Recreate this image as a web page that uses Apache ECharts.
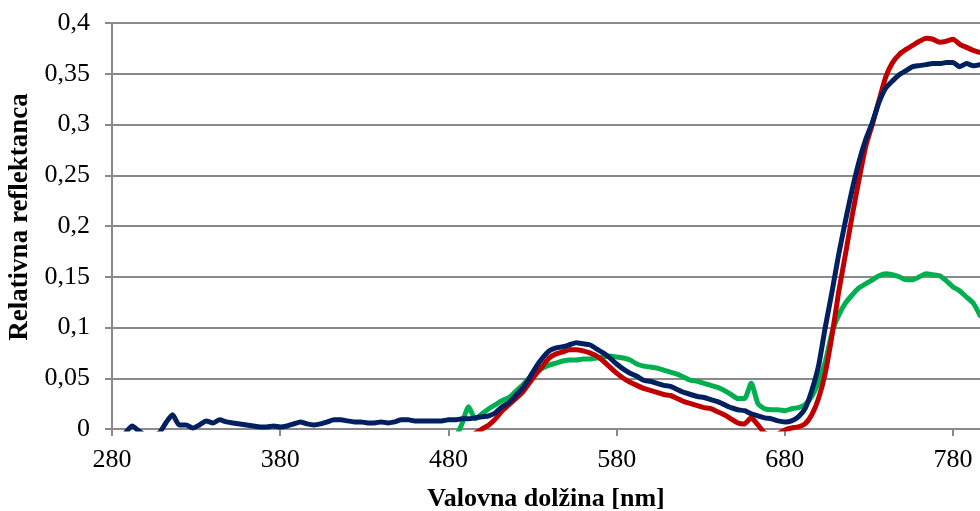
<!DOCTYPE html>
<html>
<head>
<meta charset="utf-8">
<script src="https://cdn.jsdelivr.net/npm/echarts@6/dist/echarts.min.js"></script>
<style>
  html, body { margin: 0; padding: 0; background: #ffffff; }
  #chart { width: 980px; height: 511px; }
</style>
</head>
<body>
<div id="chart"></div>
<script>
// Wavelength grid (nm), 4 nm step
const wavelengths = [];
for (let w = 288; w <= 796; w += 4) wavelengths.push(w);

// Navy spectrum, 288–796 nm
const navyValues = [
  -0.004, 0.003, -0.002, -0.006, -0.006, -0.004, 0.006, 0.014, 0.004, 0.004,
  0.001, 0.004, 0.008, 0.006, 0.009, 0.007, 0.006, 0.005, 0.004, 0.003,
  0.002, 0.002, 0.003, 0.002, 0.003, 0.005, 0.007, 0.005, 0.004, 0.005,
  0.007, 0.009, 0.009, 0.008, 0.007, 0.007, 0.006, 0.006, 0.007, 0.006,
  0.007, 0.009, 0.009, 0.008, 0.008, 0.008, 0.008, 0.008, 0.009, 0.009,
  0.010, 0.010, 0.011, 0.012, 0.013, 0.016, 0.022, 0.026, 0.033, 0.040,
  0.050, 0.061, 0.070, 0.077, 0.080, 0.081, 0.083, 0.085, 0.084, 0.083,
  0.079, 0.075, 0.070, 0.064, 0.059, 0.055, 0.052, 0.048, 0.047, 0.045,
  0.043, 0.042, 0.039, 0.036, 0.034, 0.032, 0.031, 0.029, 0.027, 0.024,
  0.021, 0.019, 0.018, 0.015, 0.013, 0.011, 0.010, 0.008, 0.007, 0.008,
  0.012, 0.020, 0.038, 0.062, 0.100, 0.135, 0.172, 0.205, 0.236, 0.263,
  0.285, 0.302, 0.322, 0.336, 0.343, 0.349, 0.353, 0.357, 0.358, 0.359,
  0.360, 0.360, 0.361, 0.361, 0.357, 0.360, 0.358, 0.359
];

// Red spectrum, from 488 nm
const redStart = 488;
const redValues = [
  -0.010, -0.008, -0.004, 0.000, 0.004, 0.010, 0.018, 0.024, 0.030, 0.036,
  0.045, 0.054, 0.062, 0.070, 0.074, 0.076, 0.078, 0.078, 0.077, 0.075,
  0.072, 0.067, 0.061, 0.055, 0.050, 0.046, 0.043, 0.040, 0.038, 0.036,
  0.034, 0.033, 0.030, 0.027, 0.025, 0.023, 0.021, 0.020, 0.017, 0.014,
  0.010, 0.006, 0.005, 0.011, 0.004, -0.004, -0.006, -0.005, -0.001, 0.001,
  0.002, 0.005, 0.014, 0.030, 0.055, 0.092, 0.135, 0.172, 0.210, 0.245,
  0.278, 0.300, 0.324, 0.347, 0.361, 0.369, 0.374, 0.378, 0.382, 0.385,
  0.384, 0.381, 0.382, 0.384, 0.379, 0.376, 0.373, 0.371
];

// Green spectrum, from 484 nm
const greenStart = 484;
const greenValues = [
  -0.010, 0.005, 0.022, 0.010, 0.015, 0.020, 0.024, 0.028, 0.031, 0.037,
  0.043, 0.050, 0.056, 0.060, 0.063, 0.065, 0.067, 0.068, 0.068, 0.069,
  0.069, 0.070, 0.071, 0.072, 0.071, 0.070, 0.068, 0.064, 0.062, 0.061,
  0.060, 0.058, 0.056, 0.054, 0.051, 0.048, 0.047, 0.045, 0.043, 0.041,
  0.038, 0.034, 0.030, 0.030, 0.045, 0.025, 0.020, 0.019, 0.019, 0.018,
  0.020, 0.021, 0.024, 0.032, 0.046, 0.066, 0.095, 0.112, 0.124, 0.132,
  0.139, 0.143, 0.147, 0.151, 0.153, 0.152, 0.150, 0.147, 0.147, 0.150,
  0.153, 0.152, 0.151, 0.146, 0.140, 0.136, 0.130, 0.124, 0.112
];

// Axis settings
const xMin = 280, xMax = 796, xStep = 100;
const yMin = 0, yMax = 0.4, yStep = 0.05;
const xTitle = 'Valovna dolžina [nm]';
const yTitle = 'Relativna reflektanca';

function pairs(start, values) {
  const i0 = wavelengths.indexOf(start);
  return values.map((v, i) => [wavelengths[i0 + i], v]);
}

const gray = '#8a8a8a';
const font = '"Liberation Serif", "Times New Roman", serif';

const chart = echarts.init(document.getElementById('chart'), null, { renderer: 'canvas' });

const lineSeries = (data, color) => ({
  type: 'line',
  data: data,
  showSymbol: false,
  smooth: 0.2,
  clip: true,
  lineStyle: { color: color, width: 5, join: 'round', cap: 'round' },
  itemStyle: { color: color },
  animation: false
});

chart.setOption({
  backgroundColor: '#ffffff',
  animation: false,
  grid: {
    left: 112, right: 0, top: 23, bottom: 82,
    containLabel: false,
    outerBoundsMode: 'none'
  },
  xAxis: {
    type: 'value',
    min: xMin,
    max: xMax,
    interval: xStep,
    name: xTitle,
    nameLocation: 'middle',
    nameGap: 57,
    nameTextStyle: { fontFamily: font, fontSize: 26, fontWeight: 'bold', color: '#000' },
    axisLine: { show: true, onZero: false, lineStyle: { color: gray, width: 2 } },
    axisTick: { show: true, inside: false, length: 7, lineStyle: { color: gray, width: 2 } },
    axisLabel: {
      fontFamily: font, fontSize: 26, color: '#000', margin: 18,
      showMaxLabel: false
    },
    splitLine: { show: false }
  },
  yAxis: {
    type: 'value',
    min: yMin,
    max: yMax,
    interval: yStep,
    name: yTitle,
    nameLocation: 'middle',
    nameGap: 76,
    nameRotate: 90,
    nameTextStyle: {
      fontFamily: font, fontSize: 27, fontWeight: 'bold', color: '#000',
      padding: [0, 0, 0, 18]
    },
    axisLine: { show: true, lineStyle: { color: gray, width: 2 } },
    axisTick: { show: true, inside: false, length: 7, lineStyle: { color: gray, width: 2 } },
    axisLabel: {
      fontFamily: font, fontSize: 26, color: '#000', margin: 22,
      formatter: v => String(+v.toFixed(2)).replace('.', ',')
    },
    splitLine: { show: true, lineStyle: { color: gray, width: 2 } }
  },
  series: [
    lineSeries(pairs(greenStart, greenValues), '#00b050'),
    lineSeries(pairs(redStart, redValues), '#c00000'),
    lineSeries(pairs(288, navyValues), '#002060')
  ]
});
</script>
</body>
</html>
